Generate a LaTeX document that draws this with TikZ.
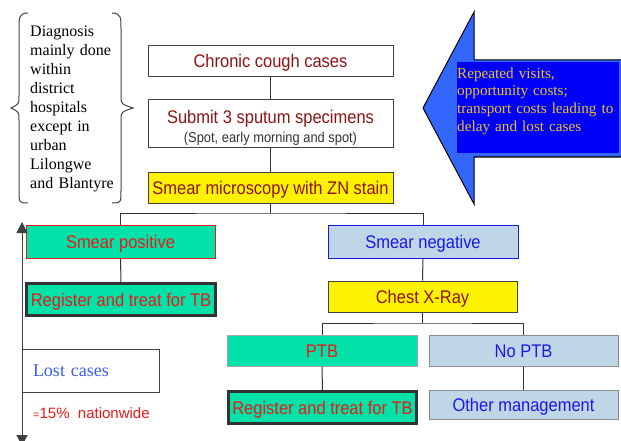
\documentclass[tikz,border=0pt]{standalone}
\usepackage{fontspec}
\setmainfont{Liberation Serif}
\setsansfont{Liberation Sans}[FakeStretch=0.9]
\newfontfamily\widesans{Liberation Sans}
\usetikzlibrary{arrows.meta}
\definecolor{tbgreen}{RGB}{0,226,168}
\definecolor{tbpale}{RGB}{190,214,230}
\definecolor{tbmaroon}{RGB}{140,20,20}
\definecolor{tbred}{RGB}{235,25,25}
\definecolor{tbblue}{RGB}{25,25,230}
\definecolor{arrowlight}{RGB}{51,102,255}
\definecolor{arrowdark}{RGB}{0,0,250}
\definecolor{arrowtext}{RGB}{235,195,40}
\definecolor{lostblue}{RGB}{60,90,255}
\tikzset{
  flowbox/.style={draw=black!75, line width=1pt, inner sep=0pt,
    font=\sffamily\fontsize{18.3}{20}\selectfont},
  oneline/.style={flowbox, text height=13pt, text depth=0pt},
  plainbox/.style={oneline, fill=white, text=tbmaroon},
  yellowbox/.style={oneline, fill=yellow, text=tbmaroon},
  greenbox/.style={oneline, fill=tbgreen, text=tbred},
  palebox/.style={oneline, fill=tbpale, text=tbblue},
  treatbox/.style={greenbox, draw=black!80, line width=3pt},
  link/.style={draw=black!80, line width=1pt},
}
\begin{document}
\begin{tikzpicture}[x=1pt,y=-1pt]
   \useasboundingbox (0,0) rectangle (621,441);
   % note on the left
   \draw[line width=1pt, black!75] (28,13) .. controls (19,13) and (19,18) .. (19,28) -- (19,96)
      .. controls (19,104) .. (11,108) .. controls (19,112) .. (19,120) -- (19,190)
      .. controls (19,203) .. (28,203);
   \draw[line width=1pt, black!75] (112,13) .. controls (121,13) and (121,18) .. (121,28) -- (121,96)
      .. controls (121,104) .. (133,108) .. controls (121,112) .. (121,120) -- (121,190)
      .. controls (121,203) .. (112,203);
   \node[anchor=north west, inner sep=0pt, text width=95, align=left,
      font=\fontsize{16}{19}\selectfont] (diag) at (30,26)
      {Diagnosis\\mainly done\\within\\district\\hospitals\\except in\\urban\\Lilongwe\\and Blantyre};
   % big arrow
   \draw[line width=1pt, fill=arrowlight] (474,12) -- (423,108) -- (474,204) -- (474,157)
      -- (625,157) -- (625,60) -- (474,60) -- cycle;
   \fill[arrowdark] (457,62) rectangle (619,153);
   \node[anchor=north west, inner sep=0pt, text width=162, align=left, text=arrowtext,
      font=\fontsize{15.2}{17.7}\selectfont] (costs) at (457,67.5)
      {Repeated visits,\\opportunity costs;\\transport costs leading to\\delay and lost cases};
   % flow
   \node[plainbox, minimum width=245, minimum height=31] (cough) at (270.5,61.5) {Chronic cough cases};
   \node[flowbox, fill=white, text=tbmaroon, minimum width=245, minimum height=48, align=center] (submit) at (270.5,124)
      {\rule{0pt}{21pt}Submit 3 sputum specimens\\[-1pt]{\fontsize{14.3}{15}\selectfont\color{black!80}(Spot, early morning and spot)}};
   \node[yellowbox, minimum width=245, minimum height=31] (smear) at (270.5,187.5) {Smear microscopy with ZN stain};
   \node[greenbox, draw=tbred, minimum width=189, minimum height=33] (smpos) at (120.5,241.5) {Smear positive};
   \node[treatbox, minimum width=189, minimum height=32] (regL) at (121,299.5) {Register and treat for TB};
   \node[palebox, draw=tbblue, minimum width=190, minimum height=33] (smneg) at (423,241.5) {Smear negative};
   \node[yellowbox, minimum width=189, minimum height=31] (xray) at (422.5,296.5) {Chest X-Ray};
   \node[greenbox, draw=black!35, minimum width=190, minimum height=31] (ptb) at (322,350.5) {PTB};
   \node[palebox, draw=black!45, minimum width=189, minimum height=31] (noptb) at (523.5,350.5) {No PTB};
   \node[treatbox, minimum width=188, minimum height=32] (regR) at (322.5,407.5) {Register and treat for TB};
   \node[palebox, draw=black!45, minimum width=189, minimum height=29] (other) at (523.5,404.5) {Other management};
   \coordinate (splitA) at (270.5,213);
   \coordinate (splitB) at (422.5,323);
   \draw[link] (cough) -- (submit);
   \draw[link] (submit) -- (smear);
   \draw[link] (smear) -- (splitA);
   \draw[link] (smpos.north) |- (splitA) -| (smneg.north);
   \draw[link] (smpos) -- (regL);
   \draw[link] (smneg) -- (xray);
   \draw[link] (xray) -- (splitB);
   \draw[link] (ptb.north) |- (splitB) -| (noptb.north);
   \draw[link] (ptb) -- (regR);
   \draw[link] (noptb) -- (other);
   % lost cases
   \coordinate (lossTop) at (22,222);
   \coordinate (lossEnd) at (22,446);
   \draw[line width=1pt, black!75, {Triangle[length=11pt,width=11pt]}-{Triangle[length=11pt,width=11pt]}] (lossTop) -- (lossEnd);
   \node[draw=black!75, line width=1pt, fill=white, minimum width=137, minimum height=43, text width=115,
      inner xsep=11pt, inner ysep=0pt, align=left, text=lostblue, font=\fontsize{18}{20}\selectfont] (lost) at (90.5,370.5) {Lost cases};
   \node[anchor=base west, inner sep=0pt, text=tbred, font=\widesans\fontsize{15}{16}\selectfont] (share) at (33,418)
      {{\fontsize{11}{12}\selectfont=}15\%\ \ nationwide};
\end{tikzpicture}
\end{document}
